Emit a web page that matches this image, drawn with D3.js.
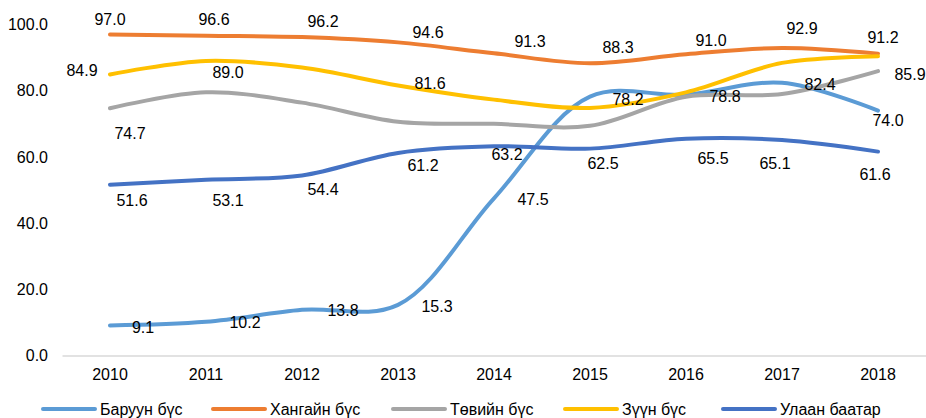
<!DOCTYPE html>
<html>
<head>
<meta charset="utf-8">
<script src="https://cdn.jsdelivr.net/npm/d3@7"></script>
<style>
  body { margin: 0; background: #fff; }
  text { font-family: "Liberation Sans", Arial, sans-serif; fill: #000; }
</style>
</head>
<body>
<div id="chart"></div>
<script>
const years = ["2010", "2011", "2012", "2013", "2014", "2015", "2016", "2017", "2018"];
const seriesNames = ["Баруун бүс", "Хангайн бүс", "Төвийн бүс", "Зүүн бүс", "Улаан баатар"];
const baruun = [9.1, 10.2, 13.8, 15.3, 47.5, 78.2, 78.8, 82.4, 74.0];
const khangai = [97.0, 96.6, 96.2, 94.6, 91.3, 88.3, 91.0, 92.9, 91.2];
const tuv = [74.7, 79.5, 76.4, 70.6, 70.0, 69.4, 78.2, 79.0, 85.9];
const zuun = [84.9, 89.0, 87.0, 81.6, 77.3, 74.8, 79.5, 88.4, 90.4];
const ulaanbaatar = [51.6, 53.1, 54.4, 61.2, 63.2, 62.5, 65.5, 65.1, 61.6];
const yTicks = [0, 20, 40, 60, 80, 100];

// which points carry a data label
const shown = [
  [1, 1, 1, 1, 1, 1, 1, 1, 1],
  [1, 1, 1, 1, 1, 1, 1, 1, 1],
  [1, 0, 0, 0, 0, 0, 0, 0, 1],
  [1, 1, 0, 1, 0, 0, 0, 0, 0],
  [1, 1, 1, 1, 1, 1, 1, 1, 1]
];
// label nudges (dx, dy) from each point, as placed in the original
const nudges = [
  [[33, 2], [39, 1], [41, 1], [39, 2], [39, 1], [38, 3], [39, 2], [38, 2], [10, 10]],
  [[0, -15], [8, -16], [21, -16], [30, -10], [36, -12], [28, -16], [25, -14], [20, -20], [5, -16]],
  [[20, 25], [0, 0], [0, 0], [0, 0], [0, 0], [0, 0], [0, 0], [0, 0], [32, 3]],
  [[-28, -4], [22, 12], [0, 0], [32, -2], [0, 0], [0, 0], [0, 0], [0, 0], [0, 0]],
  [[22, 16], [22, 21], [21, 14], [25, 13], [13, 8], [13, 15], [27, 20], [-7, 23], [-3, 23]]
];
const colors = ["#5B9BD5", "#ED7D31", "#A5A5A5", "#FFC000", "#4472C4"];

const allValues = [baruun, khangai, tuv, zuun, ulaanbaatar];

const width = 926;
const height = 418;

const svg = d3.select("#chart")
  .append("svg")
  .attr("width", width)
  .attr("height", height);

const xScale = d3.scaleBand()
  .domain(years)
  .range([62, 926]);

const yScale = d3.scaleLinear()
  .domain([0, 100])
  .range([355.5, 24.5]);

const xPos = d => xScale(d) + xScale.bandwidth() / 2;

// y axis labels (no axis line, no gridlines)
const yAxis = svg.append("g")
  .attr("transform", "translate(48, 0)")
  .call(d3.axisLeft(yScale).tickValues(yTicks).tickFormat(d3.format(".1f")).tickSize(0).tickPadding(0));
yAxis.select(".domain").remove();
yAxis.selectAll("text")
  .style("font-family", "Liberation Sans, Arial, sans-serif")
  .style("font-size", "16px")
  .attr("fill", "#000");

// x axis baseline + labels
const xAxis = svg.append("g")
  .attr("transform", `translate(0, ${yScale(0)})`)
  .call(d3.axisBottom(xScale).tickSize(0).tickPadding(13));
xAxis.select(".domain").attr("stroke", "#d9d9d9").attr("stroke-width", 1.5);
xAxis.selectAll("text")
  .style("font-family", "Liberation Sans, Arial, sans-serif")
  .style("font-size", "16px")
  .attr("fill", "#000");

const line = d3.line()
  .x((d, i) => xPos(years[i]))
  .y(d => yScale(d))
  .curve(d3.curveCatmullRom.alpha(0.5));

svg.append("g")
  .selectAll("path")
  .data(allValues)
  .enter()
  .append("path")
  .attr("d", d => line(d))
  .attr("fill", "none")
  .attr("stroke", (d, i) => colors[i])
  .attr("stroke-width", 4)
  .attr("stroke-linecap", "round");

// data labels
const labels = [];
allValues.forEach((vals, s) => {
  vals.forEach((v, i) => {
    if (shown[s][i]) labels.push({ s, i, v });
  });
});

svg.append("g")
  .selectAll("text")
  .data(labels)
  .enter()
  .append("text")
  .attr("x", d => xPos(years[d.i]) + nudges[d.s][d.i][0])
  .attr("y", d => yScale(d.v) + nudges[d.s][d.i][1])
  .attr("text-anchor", "middle")
  .attr("dominant-baseline", "central")
  .style("font-size", "16px")
  .text(d => d.v.toFixed(1));

// legend
const legendX = [43, 213, 393, 565, 723];
const legend = svg.append("g")
  .selectAll("g")
  .data(seriesNames)
  .enter()
  .append("g")
  .attr("transform", (d, i) => `translate(${legendX[i]}, 409)`);

legend.append("line")
  .attr("x1", 0)
  .attr("x2", 52)
  .attr("stroke", (d, i) => colors[i])
  .attr("stroke-width", 4)
  .attr("stroke-linecap", "round");

legend.append("text")
  .attr("x", 57)
  .attr("dominant-baseline", "central")
  .style("font-size", "16px")
  .text(d => d);
</script>
</body>
</html>
